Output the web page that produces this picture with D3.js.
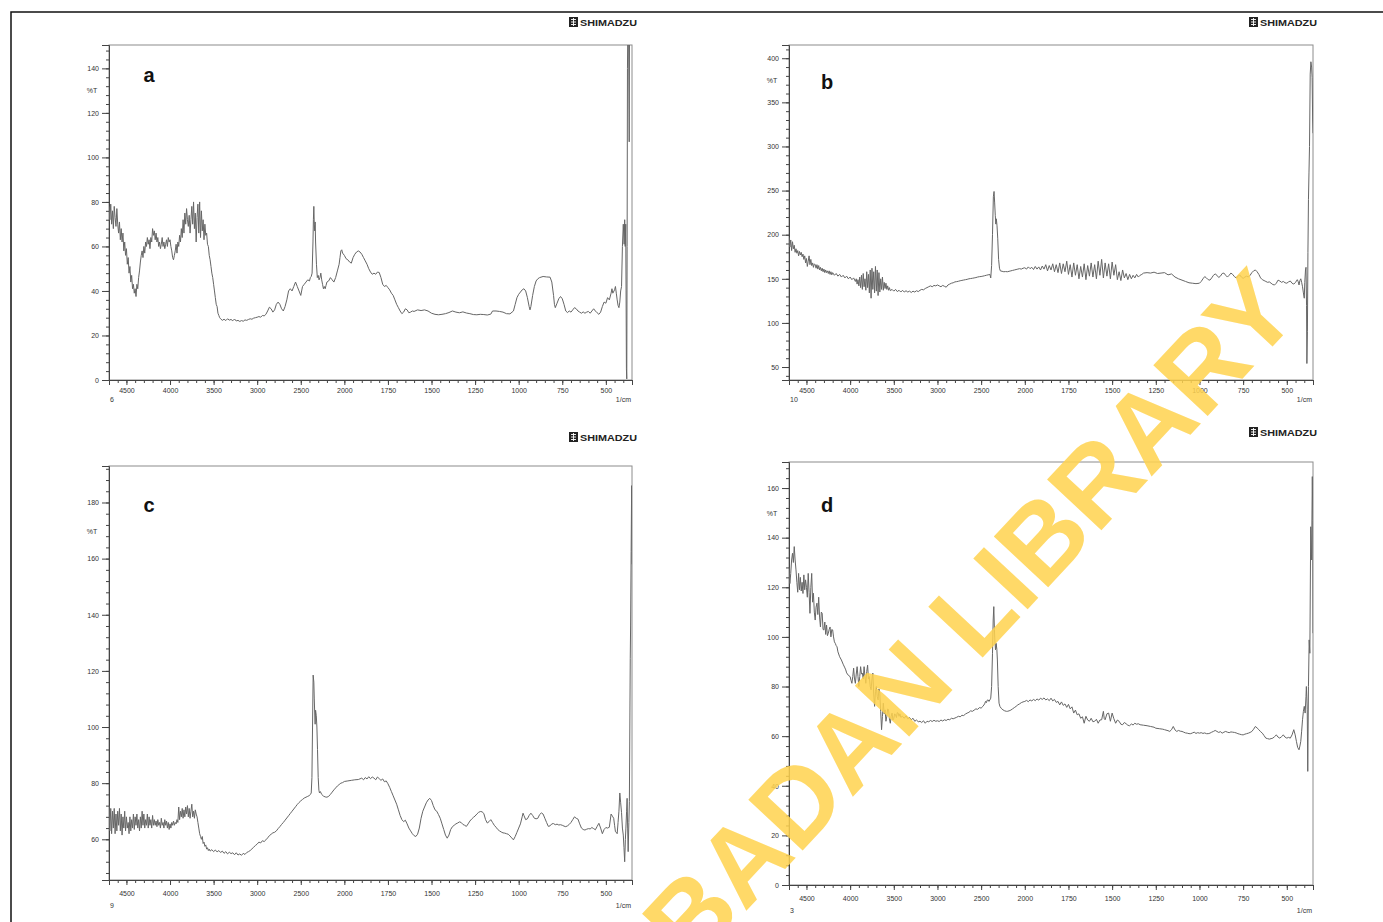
<!DOCTYPE html>
<html>
<head>
<meta charset="utf-8">
<script src="https://cdnjs.cloudflare.com/ajax/libs/d3/7.8.5/d3.min.js"></script>
<style>
  body { margin: 0; background: #fff; }
  text { font-family: "Liberation Sans", Arial, sans-serif; }
</style>
</head>
<body>
<div id="chart"></div>
<script>
// wavenumber ticks shared by all four spectra (1/cm)
const xMajor = [4500, 4000, 3500, 3000, 2500, 2000, 1750, 1500, 1250, 1000, 750, 500];

// %T tick labels per panel
const yTicksA = [0, 20, 40, 60, 80, 100, 120, 140];
const yTicksB = [50, 100, 150, 200, 250, 300, 350, 400];
const yTicksC = [60, 80, 100, 120, 140, 160, 180];
const yTicksD = [0, 20, 40, 60, 80, 100, 120, 140, 160];

// spectra: [wavenumber, %T]
const spectrumA = [
  [4700,78],[4690,72],[4680,79],[4670,70],[4660,76],[4650,68],[4640,78],[4630,73],[4620,69],[4610,77],
  [4600,70],[4590,66],[4580,71],[4570,63],[4560,68],[4550,62],[4540,66],[4530,58],[4520,62],[4510,56],
  [4500,59],[4490,52],[4480,55],[4470,48],[4460,51],[4450,44],[4440,47],[4430,41],[4420,43],[4410,39],
  [4400,41],[4390,37.5],[4380,43],[4370,41],[4360,46],[4350,49],[4340,53],[4330,56],[4320,58],[4310,55],
  [4300,60],[4290,57],[4280,62],[4270,60],[4260,64],[4250,61],[4240,63],[4230,59],[4220,64],[4210,62],
  [4200,68],[4190,65],[4180,67],[4170,63],[4160,66],[4150,62],[4140,64],[4130,60],[4120,62],[4110,59],
  [4100,61],[4090,64],[4080,60],[4070,62],[4060,59],[4050,61],[4040,63],[4030,60],[4020,64],[4010,62],
  [4000,63],[3990,60],[3980,58],[3970,55],[3960,54],[3950,56],[3940,58],[3930,61],[3920,57],[3910,62],
  [3900,60],[3890,65],[3880,62],[3870,68],[3860,64],[3850,72],[3840,66],[3830,75],[3820,70],[3810,77],
  [3800,72],[3790,69],[3780,74],[3770,66],[3760,72],[3750,78],[3740,70],[3730,80],[3720,68],[3710,75],
  [3700,62],[3690,73],[3680,79],[3670,66],[3660,80],[3650,64],[3640,76],[3630,67],[3620,72],[3610,63],
  [3600,70],[3590,65],[3580,66],[3570,61],[3560,60],[3550,56],[3540,54],[3530,51],[3520,48],[3510,46],
  [3500,43],[3490,40],[3480,37],[3470,34],[3460,33],[3450,30],[3440,29],[3430,28],[3420,27.5],[3400,26.8],
  [3380,27.3],[3360,26.7],[3340,27.5],[3320,26.9],[3300,27.2],[3280,26.6],[3260,27.4],[3240,26.5],[3220,26.8],
  [3200,26.3],[3180,26.7],[3160,26.4],[3140,27],[3120,26.8],[3100,27.2],[3080,27.5],[3060,27.3],[3040,27.8],
  [3020,28],[3000,28.2],[2980,28.5],[2960,28.2],[2940,29],[2920,28.8],[2900,29.5],[2880,31],[2860,32.7],
  [2840,32],[2820,30.5],[2800,31.5],[2780,34],[2760,35],[2740,34],[2720,32],[2700,31],[2680,33],[2660,36],
  [2640,40],[2620,41],[2600,40],[2580,42],[2560,44],[2540,42],[2520,40],[2500,38],[2490,40],[2480,42],
  [2460,43],[2440,44],[2420,45],[2400,44.5],[2390,46],[2380,46.5],[2370,48],[2360,62],[2355,72],[2350,78],
  [2345,70],[2340,67],[2335,71],[2330,62],[2320,52],[2310,46],[2300,47],[2290,45],[2280,46],[2270,48],
  [2260,45],[2250,43],[2240,41],[2230,42],[2220,41],[2210,42.5],[2200,44],[2180,44.5],[2160,46],[2140,45],
  [2120,44],[2100,46],[2080,49],[2060,52],[2050,55],[2040,58],[2030,58.5],[2020,57],[2000,56],[1990,54.5],
  [1980,54],[1970,53],[1960,52.5],[1950,55],[1940,56.5],[1930,57.5],[1920,58],[1910,57.5],[1900,56.5],
  [1890,55],[1880,53.5],[1870,52],[1860,50],[1850,48.5],[1840,47.5],[1830,48],[1820,47.5],[1810,48.5],
  [1800,48.3],[1790,46],[1780,43],[1770,42],[1760,42.5],[1750,41.5],[1740,40.5],[1730,39],[1720,38],
  [1710,36],[1700,34],[1690,32.5],[1680,31],[1670,29.8],[1660,30.5],[1650,32],[1640,31.5],[1630,30.2],
  [1620,30.5],[1610,31],[1600,30.8],[1580,31.5],[1560,31.2],[1540,31.5],[1520,31],[1500,30],[1480,29.5],
  [1460,29.3],[1440,29.5],[1420,29.8],[1400,30.3],[1380,31],[1360,30.5],[1340,30.2],[1320,30.6],[1300,30.1],
  [1280,29.8],[1260,29.4],[1240,29.3],[1220,29.5],[1200,29.4],[1180,29.2],[1160,29.6],[1150,31],[1130,31],
  [1110,30.8],[1090,30.5],[1070,29.8],[1050,29.7],[1030,31],[1020,34],[1010,37],[1000,38.5],[990,39.5],
  [980,40.5],[970,41],[960,40],[950,37],[940,33],[935,31.5],[930,33],[920,38],[910,42],[900,44.5],
  [890,45.5],[880,46],[860,46.5],[840,46.3],[820,46.2],[810,44],[800,38],[795,34],[790,32.5],[780,34.5],
  [770,36.5],[760,37.5],[750,36.5],[740,34],[730,31],[720,30.3],[710,31],[700,30.5],[690,31.5],[680,32.5],
  [670,32],[660,31],[650,30.5],[640,30],[630,30.6],[620,30],[610,30.5],[600,30.8],[590,30],[580,31],
  [570,32],[560,31],[550,30.2],[540,29.5],[530,30.5],[520,33],[510,35],[500,34.5],[490,37],[480,36],
  [470,39],[465,41],[460,39],[450,40.5],[445,42],[440,39],[435,36],[430,33.5],[425,32.5],[420,35],
  [415,40],[410,42],[405,60],[400,70],[395,61],[392,72],[389,60],[386,70],[384,40],[382,5],[380,0.5],
  [378,60],[376,140],[374,160],[370,160],[366,107],[364,160],[350,160]
];

const spectrumB = [
  [4700,197],[4690,186],[4680,194],[4670,182],[4660,192],[4650,184],[4640,188],[4630,180],[4620,184],[4610,179],
  [4600,182],[4590,176],[4580,181],[4570,177],[4560,180],[4550,175],[4540,178],[4530,172],[4520,176],[4510,168],
  [4500,173],[4490,164],[4480,170],[4470,176],[4460,166],[4450,172],[4440,165],[4430,168],[4420,163],[4410,167],
  [4400,166],[4390,162],[4380,166],[4370,161],[4360,165],[4350,160],[4340,163],[4330,159],[4320,162],[4310,158],
  [4300,161],[4290,157],[4280,160],[4270,157],[4260,159],[4250,156],[4240,159],[4230,155],[4220,158],[4210,154.5],
  [4200,157],[4180,154],[4160,156],[4140,153],[4120,155],[4100,152],[4080,154],[4060,151],[4040,153],[4020,150],
  [4000,152],[3980,149],[3960,151],[3940,147],[3930,150],[3920,144],[3910,149],[3900,142],[3890,152],[3880,140],
  [3870,154],[3860,138],[3850,156],[3840,141],[3830,150],[3820,137],[3810,158],[3800,140],[3790,155],[3780,134],
  [3770,160],[3760,128],[3750,162],[3740,138],[3730,158],[3720,134],[3710,164],[3700,136],[3690,160],[3680,131],
  [3670,157],[3660,135],[3650,150],[3640,138],[3630,152],[3620,137],[3610,146],[3600,139],[3590,145],[3580,138],
  [3570,142],[3560,137],[3550,140],[3540,136.5],[3520,138],[3500,136],[3480,138],[3460,135.5],[3440,137],[3420,135],
  [3400,137],[3380,135],[3360,136.5],[3340,135],[3320,136],[3300,134.5],[3280,136],[3260,135],[3240,136.5],[3220,135.5],
  [3200,137],[3180,138],[3160,137.5],[3140,139],[3120,140],[3100,141],[3080,142],[3060,141],[3040,142.5],[3020,142],
  [3000,143],[2980,142],[2960,141],[2940,142.5],[2920,141.5],[2900,140.5],[2880,143],[2860,144],[2840,145],[2820,145.5],
  [2800,146.5],[2780,146.8],[2760,147.2],[2740,147.8],[2720,148.2],[2700,148.6],[2680,149],[2660,149.4],[2640,150],
  [2620,150.3],[2600,150.6],[2580,151],[2560,151.4],[2540,152],[2520,152.4],[2500,152.6],[2480,153],[2460,153.5],
  [2440,154],[2420,154.5],[2400,155],[2390,151],[2380,165],[2370,200],[2360,243],[2352,249],[2345,236],[2338,222],
  [2332,212],[2326,218],[2318,210],[2310,196],[2300,172],[2290,162],[2280,159],[2260,158.5],[2240,158],[2220,158.2],
  [2200,158],[2180,158.5],[2160,159],[2140,159.5],[2120,160],[2100,160.5],[2080,161],[2060,161.5],[2040,161],[2020,162],
  [2000,162.5],[1990,161],[1980,163.5],[1970,161.5],[1960,163],[1950,160.5],[1940,164],[1930,161],[1920,163.5],[1910,160],
  [1900,164.5],[1890,161],[1880,166],[1870,159],[1860,165],[1850,160],[1840,167],[1830,158],[1820,166],[1810,157],
  [1800,168],[1790,156],[1780,167],[1770,158],[1760,170],[1750,155],[1740,166],[1730,152],[1720,168],[1710,154],
  [1700,166],[1690,150],[1680,164],[1670,152],[1660,167],[1650,149],[1640,165],[1630,153],[1620,168],[1610,152],
  [1600,166],[1590,150],[1580,170],[1570,154],[1560,172],[1550,151],[1540,168],[1530,153],[1520,167],[1510,150],
  [1500,169],[1490,154],[1480,166],[1470,149],[1460,158],[1450,148],[1440,160],[1430,151],[1420,156],[1410,149],
  [1400,155],[1390,150],[1380,154],[1370,151],[1360,155],[1350,152],[1340,154],[1330,155],[1320,156.5],[1300,157],
  [1280,156.5],[1260,157.5],[1240,156],[1220,156.5],[1200,157],[1180,154.5],[1160,155.5],[1140,152],[1120,150],
  [1100,148.5],[1080,147],[1060,145.5],[1040,145],[1020,144.5],[1000,145],[990,147],[980,150],[970,152.5],[960,151],
  [950,149],[940,148.5],[930,151],[920,154],[910,155.5],[900,154],[890,151.5],[880,153],[870,156],[860,156.5],
  [850,154],[840,152],[830,154],[820,156.5],[810,155],[800,152.5],[790,151],[780,152.5],[770,154.5],[760,152],
  [750,150.5],[740,152],[730,153],[720,152],[710,154],[700,157],[690,159],[680,160],[670,158],[660,155],
  [650,151],[640,149],[630,148],[620,147],[610,146],[600,146.5],[590,145],[580,143.5],[570,143],[560,145],
  [550,148.5],[540,147.5],[530,146],[520,147],[510,145.5],[500,145],[490,146.5],[480,147.5],[470,145],[460,144],
  [450,146],[440,149],[435,147],[430,143],[425,148],[420,150],[415,146],[410,141],[405,134],[400,128],
  [397,146],[393,160],[390,163],[387,120],[385,54],[382,90],[379,180],[376,240],[373,270],[370,300],
  [366,382],[362,396],[358,390],[355,378],[352,330],[350,315]
];

const spectrumC = [
  [4700,72],[4690,63],[4680,71],[4670,62],[4660,70],[4650,64],[4640,71],[4630,62],[4620,69],[4610,63],
  [4600,70],[4590,65],[4580,71],[4570,63],[4560,69],[4550,61.5],[4540,68],[4530,64],[4520,70],[4510,63],
  [4500,68],[4490,64],[4480,66],[4470,62],[4460,68],[4450,63],[4440,67],[4430,64],[4420,69],[4410,63.5],
  [4400,68],[4390,65],[4380,69],[4370,64],[4360,67],[4350,63],[4340,68],[4330,64],[4320,70],[4310,65],
  [4300,69],[4290,64],[4280,67],[4270,65],[4260,69],[4250,64],[4240,68],[4230,65],[4220,67],[4210,64],
  [4200,68.5],[4190,65],[4180,67],[4170,65],[4160,66.5],[4150,64.5],[4140,67],[4130,65],[4120,66],[4110,64],
  [4100,67.5],[4090,65],[4080,66],[4070,64],[4060,67],[4050,65],[4040,66.5],[4030,64],[4020,66],[4010,63.5],
  [4000,65.5],[3990,64],[3980,66],[3970,65],[3960,66.5],[3950,65],[3940,66],[3930,65.5],[3920,67],[3910,66],
  [3900,71.5],[3890,67],[3880,70],[3870,68],[3860,71],[3850,67.5],[3840,70.5],[3830,68],[3820,71.5],[3810,69],
  [3800,72],[3790,68],[3780,71],[3770,67.5],[3760,70],[3750,72.5],[3740,68],[3730,70],[3720,67.5],[3710,70.5],
  [3700,69],[3690,68],[3680,66],[3670,64],[3660,62],[3650,61],[3640,60],[3630,61],[3620,58.5],[3610,59],
  [3600,57.5],[3590,58],[3580,56.5],[3570,57],[3560,56],[3550,56.5],[3540,55.8],[3520,56.3],[3500,55.6],
  [3480,56.2],[3460,55.5],[3440,56],[3420,55.3],[3400,55.8],[3380,55],[3360,55.6],[3340,54.8],[3320,55.4],
  [3300,54.9],[3280,55.2],[3260,54.5],[3240,55.2],[3220,54.4],[3200,54.8],[3180,54.3],[3160,55],[3140,54.6],
  [3120,55.3],[3100,55.6],[3080,56],[3060,56.6],[3040,57.2],[3020,57.8],[3000,58.3],[2980,59],[2960,58.7],
  [2940,59.5],[2920,59.2],[2900,59.8],[2880,60.5],[2860,61.3],[2840,61.8],[2820,62.3],[2800,62.5],[2780,63],
  [2760,63.8],[2740,64.5],[2720,65.3],[2700,66],[2680,66.8],[2660,67.6],[2640,68.4],[2620,69.2],[2600,70],
  [2580,70.8],[2560,71.6],[2540,72.4],[2520,73.1],[2500,73.7],[2480,74.2],[2460,74.7],[2440,75],[2420,75.3],
  [2400,75.6],[2390,76],[2380,76.5],[2372,82],[2365,100],[2358,118.5],[2350,116],[2345,110],[2340,105],
  [2335,101],[2330,106],[2322,104],[2315,100],[2308,92],[2300,82],[2292,77.5],[2285,76.5],[2275,77],
  [2260,76],[2240,75.4],[2220,75.1],[2200,75],[2180,75.3],[2160,76],[2140,76.8],[2120,77.6],[2100,78.3],
  [2080,79],[2060,79.5],[2040,80],[2020,80.2],[2000,80.6],[1980,80.8],[1960,81],[1940,81.2],[1920,81.3],
  [1900,81.8],[1890,81.2],[1880,82],[1870,81.5],[1860,82.3],[1850,81.6],[1840,82.2],[1830,81.8],[1820,81.2],
  [1810,82.2],[1800,81.6],[1790,81],[1780,81.5],[1770,80.5],[1760,80.8],[1750,79.8],[1740,78.5],[1730,77],
  [1720,75.5],[1710,74],[1700,72.5],[1690,70.5],[1680,68.5],[1670,67],[1660,66.3],[1650,66.8],[1640,65.5],
  [1630,64],[1620,63],[1610,62],[1600,61.3],[1590,61],[1580,61.8],[1570,64],[1560,67.5],[1550,70],
  [1540,71.5],[1530,73],[1520,74],[1510,74.6],[1500,73.8],[1490,72],[1480,70.5],[1470,70],[1460,68.8],
  [1450,67.5],[1440,65.5],[1430,63.5],[1420,61.5],[1410,60.4],[1400,61.5],[1390,63.5],[1380,64.5],[1370,65],
  [1360,65.5],[1350,65.8],[1340,66.2],[1330,66],[1320,65.3],[1310,65],[1300,64.6],[1290,65.5],[1280,66.5],
  [1270,67.2],[1260,67.8],[1250,68.3],[1240,69],[1230,69.6],[1220,69.9],[1210,69.8],[1200,69.2],[1190,67],
  [1180,65.8],[1170,66.3],[1160,67],[1150,66],[1140,65],[1130,64.3],[1120,63.5],[1110,63],[1100,62.6],
  [1090,62.3],[1080,62.2],[1070,62],[1060,61.8],[1050,61.2],[1040,60.5],[1030,59.8],[1020,61],[1010,62.5],
  [1000,64],[990,65.5],[980,68],[975,69.3],[970,68.5],[960,67],[950,67.3],[940,68.5],[930,69.3],[920,68.5],
  [910,67.5],[900,67.3],[890,67.5],[880,68.8],[870,69.4],[860,69],[850,67.5],[840,66],[830,64.6],[820,64.8],
  [810,65.5],[800,65.6],[790,65.2],[780,65.4],[770,65.1],[760,65.2],[750,65],[740,64.7],[730,64.5],[720,64.8],
  [710,65.3],[700,66],[690,67],[680,68],[670,67.5],[660,67.2],[650,65.5],[640,64],[630,63.5],[620,63.3],
  [610,63.6],[600,63.8],[590,63.7],[580,64.2],[570,63.8],[560,63.4],[550,64.6],[540,65.7],[530,64],[520,62],
  [510,63.5],[500,64.2],[490,64],[480,64.3],[470,69],[460,68],[455,67.5],[450,65],[445,62.7],[440,62.5],
  [435,62],[430,66],[425,70],[420,76.5],[415,73],[410,69.5],[405,64],[400,61.5],[396,57],[392,52],
  [388,60],[385,64],[381,70],[378,74.6],[375,64],[372,55.6],[368,66],[365,73.4],[362,105],[360,124.5],
  [358,136],[355,162.5],[352,186],[350,158]
];

const spectrumD = [
  [4700,128],[4690,121.5],[4680,125.6],[4670,131],[4660,133.7],[4650,130],[4640,136.4],[4630,131],[4620,127],
  [4610,122],[4600,118],[4590,125.6],[4580,119],[4570,124],[4560,118.5],[4550,122],[4540,117.5],[4530,125],
  [4520,119],[4510,123],[4500,120],[4490,116],[4480,125.6],[4470,118],[4460,109.5],[4450,120],[4440,125.6],
  [4430,114],[4420,117.6],[4410,110],[4400,106.8],[4390,112],[4380,113.6],[4370,109],[4360,116],[4350,108],
  [4340,104],[4330,110],[4320,109.5],[4310,103],[4300,102.8],[4290,106],[4280,101],[4270,104.8],[4260,100.5],
  [4250,101.5],[4240,103],[4230,104],[4220,100],[4210,103],[4200,102.8],[4190,100],[4180,98],[4170,97.4],
  [4160,96.5],[4150,96],[4140,94],[4120,92],[4100,90.7],[4080,89],[4060,87.5],[4050,86.7],[4040,85.5],
  [4020,84.5],[4000,84],[3990,82.5],[3980,81.3],[3970,84],[3960,87.4],[3950,83],[3940,81.3],[3930,85],
  [3920,88],[3910,84],[3900,80],[3890,84],[3880,88],[3870,85],[3860,85.4],[3850,83],[3840,88],[3830,84],
  [3820,81.3],[3810,86],[3800,88.6],[3790,83],[3780,84],[3770,80],[3760,78.7],[3750,83],[3740,85.4],
  [3730,77],[3720,72],[3710,78],[3700,80],[3690,76],[3680,74.6],[3670,79],[3660,77.3],[3650,70],[3640,62.6],
  [3630,68],[3620,73.3],[3610,69],[3600,70.6],[3590,66],[3580,68],[3570,71],[3560,70.6],[3550,67],[3540,65.2],
  [3530,68],[3520,69.3],[3510,66.5],[3500,67.2],[3490,69],[3480,68.6],[3470,67.5],[3460,69.5],[3450,69.3],
  [3440,68],[3430,69],[3420,67.6],[3400,68],[3380,67.2],[3360,68.2],[3340,67],[3320,67.5],[3300,66.6],
  [3280,67.2],[3260,66],[3240,66.5],[3220,65.8],[3200,66],[3180,65.5],[3160,66.2],[3140,65.2],[3120,66],
  [3100,65.8],[3080,66.3],[3060,65.9],[3040,66.4],[3020,66],[3000,66.2],[2980,65.9],[2960,66.5],[2940,66.1],
  [2920,66.6],[2900,66.3],[2880,66.8],[2860,66.6],[2840,67.2],[2820,67],[2800,67.3],[2780,67.6],[2760,68],
  [2740,67.8],[2720,68.4],[2700,68.3],[2680,68.9],[2660,69.3],[2640,69.6],[2620,70.2],[2600,70],[2580,70.5],
  [2560,71],[2540,70.8],[2520,71.5],[2500,71.3],[2480,72],[2460,73],[2450,74],[2440,73.5],[2430,74.5],
  [2420,74.6],[2410,74],[2400,74.6],[2390,75.3],[2380,80],[2370,93.4],[2362,106.8],[2355,112.2],[2348,103],
  [2342,98],[2335,94.8],[2328,97.4],[2320,95],[2314,90.7],[2305,80],[2295,73.3],[2285,72],[2270,71.2],
  [2250,70.6],[2230,70.2],[2210,70],[2200,70],[2180,70.2],[2160,70.5],[2140,71],[2120,71.5],[2100,72],
  [2080,72.6],[2060,73],[2040,73.5],[2020,73.8],[2000,74],[1990,74.4],[1980,73.9],[1970,74.6],[1960,74.2],
  [1950,74.8],[1940,74.3],[1930,75],[1920,74.5],[1910,75.3],[1900,74.8],[1890,75.4],[1880,74.6],[1870,75],
  [1860,74.3],[1850,75.3],[1840,74.2],[1830,74.8],[1820,73.6],[1810,74],[1800,72.6],[1790,73.8],[1780,72.4],
  [1770,73],[1760,71.6],[1750,72.8],[1740,71],[1730,71.8],[1720,69.3],[1710,70.5],[1700,68.6],[1690,69],
  [1680,67.2],[1670,67.8],[1660,65.2],[1650,68],[1640,66.5],[1630,66],[1620,67.2],[1610,65.8],[1600,66],
  [1590,66.8],[1580,65.2],[1570,66.5],[1560,66.6],[1550,70],[1545,67],[1540,66.6],[1530,69],[1520,69.3],
  [1510,66],[1500,69.3],[1490,67],[1480,65.2],[1470,66.5],[1460,66],[1450,64.8],[1440,64.6],[1430,65.5],
  [1420,65],[1410,64.4],[1400,64.2],[1390,64.9],[1380,64.5],[1370,65.2],[1360,64.8],[1350,65],[1340,64.6],
  [1320,64.4],[1300,64.2],[1280,63.9],[1260,63.6],[1250,63.2],[1230,63],[1210,62.8],[1200,62.6],[1180,62.2],
  [1170,61.9],[1160,62.6],[1150,63.9],[1140,62.5],[1130,61.9],[1120,62.3],[1110,62],[1100,61.9],[1090,61.6],
  [1080,61.3],[1070,61.2],[1060,61],[1050,61],[1040,61.3],[1030,61.6],[1020,61.1],[1010,61.4],[1000,61.2],
  [990,61.4],[980,61.1],[970,61.3],[960,61],[950,61],[940,61.2],[930,61.6],[920,61.9],[910,62.3],[900,61.9],
  [890,61.5],[880,61.8],[870,61.2],[860,61.6],[850,61.9],[840,61.6],[830,61.4],[820,61.7],[810,61.6],
  [800,61.5],[790,61.3],[780,61],[770,60.8],[760,60.6],[750,60.5],[740,60.8],[730,61],[720,61.2],[710,61.5],
  [700,61.9],[690,62.8],[680,63.9],[670,63.3],[660,62.6],[650,61.8],[640,61.2],[630,60.2],[620,59.2],
  [610,59],[600,58.8],[590,59],[580,59.2],[570,59.8],[560,60.5],[550,59.6],[540,59.2],[530,59.8],[520,60.5],
  [510,59.6],[500,59.2],[490,59.5],[480,59.2],[470,60.5],[460,62.6],[452,60.5],[445,57.9],[438,55.5],
  [430,54.5],[425,56],[420,57.9],[415,62],[410,66.6],[405,70],[400,72],[395,69.3],[390,76],[388,80],
  [385,75],[383,70.6],[380,45.8],[376,80],[372,98.8],[368,93.4],[363,144.4],[358,131],[354,164.6],
  [351,147],[350,101.5]
];

const width = 1383;
const height = 922;

const svg = d3.select("#chart")
  .append("svg")
  .attr("width", width)
  .attr("height", height);

// page frame (only top and left edges are inside the crop)
svg.append("rect")
  .attr("x", 11).attr("y", 12)
  .attr("width", width + 20).attr("height", height + 20)
  .attr("fill", "none")
  .attr("stroke", "#111")
  .attr("stroke-width", 1.5);

const panels = [
  { id: "a", data: spectrumA, yTicks: yTicksA, yDomain: [0, 150.5], yMinor: 4,
    left: 109, right: 632, top: 45, bottom: 380, labelGap: 11, sampleGap: 19, sample: "6",
    pctY: 90, letter: [149, 75], logo: [637, 22] },
  { id: "b", data: spectrumB, yTicks: yTicksB, yDomain: [35.3, 415], yMinor: 10,
    left: 789, right: 1313, top: 45, bottom: 380, labelGap: 11, sampleGap: 19, sample: "10",
    pctY: 80, letter: [827, 82], logo: [1317, 22] },
  { id: "c", data: spectrumC, yTicks: yTicksC, yDomain: [45.5, 193], yMinor: 4,
    left: 109, right: 632, top: 466, bottom: 880, labelGap: 14, sampleGap: 25, sample: "9",
    pctY: 531, letter: [149, 505], logo: [637, 437] },
  { id: "d", data: spectrumD, yTicks: yTicksD, yDomain: [0, 170.5], yMinor: 4,
    left: 789, right: 1313, top: 462, bottom: 885, labelGap: 14, sampleGap: 25, sample: "3",
    pctY: 513, letter: [827, 505], logo: [1317, 432] }
];

function drawPanel(p) {
  const g = svg.append("g").attr("class", "panel-" + p.id);

  // Shimadzu display: 500 1/cm per division above 2000, 250 below
  const step = (p.right - p.left) / 12;
  const x = d3.scaleLinear()
    .domain([4700, 2000, 350])
    .range([p.left, p.left + 5.4 * step, p.right]);

  const y = d3.scaleLinear()
    .domain(p.yDomain)
    .range([p.bottom, p.top]);

  // plot frame
  g.append("rect")
    .attr("x", p.left).attr("y", p.top)
    .attr("width", p.right - p.left).attr("height", p.bottom - p.top)
    .attr("fill", "none")
    .attr("stroke", "#8c8c8c")
    .attr("stroke-width", 1);

  // minor x ticks
  const xMinor = d3.range(4700, 2000, -100).concat(d3.range(2000, 349, -50));
  g.append("g")
    .attr("transform", `translate(0,${p.bottom})`)
    .call(d3.axisBottom(x).tickValues(xMinor).tickSize(3).tickFormat(""))
    .call(a => a.select(".domain").remove())
    .call(a => a.selectAll("line").attr("stroke", "#444"));

  // major x ticks + labels
  g.append("g")
    .attr("transform", `translate(0,${p.bottom})`)
    .call(d3.axisBottom(x).tickValues(xMajor).tickSize(5).tickPadding(p.labelGap - 8).tickFormat(d3.format("d")))
    .call(a => a.select(".domain").attr("stroke", "#444"))
    .call(a => a.selectAll("line").attr("stroke", "#444"))
    .call(a => a.selectAll("text").attr("font-size", 7).attr("fill", "#333")
      .attr("font-family", "'Liberation Sans', Arial, sans-serif"));

  // minor y ticks
  const lo = Math.ceil(p.yDomain[0] / p.yMinor) * p.yMinor;
  const yMinorVals = d3.range(lo, p.yDomain[1], p.yMinor);
  g.append("g")
    .attr("transform", `translate(${p.left},0)`)
    .call(d3.axisLeft(y).tickValues(yMinorVals).tickSize(3).tickFormat(""))
    .call(a => a.select(".domain").remove())
    .call(a => a.selectAll("line").attr("stroke", "#444"));

  // major y ticks + labels
  g.append("g")
    .attr("transform", `translate(${p.left},0)`)
    .call(d3.axisLeft(y).tickValues(p.yTicks).tickSize(7).tickPadding(3).tickFormat(d3.format("d")))
    .call(a => a.select(".domain").attr("stroke", "#444"))
    .call(a => a.selectAll("line").attr("stroke", "#444"))
    .call(a => a.selectAll("text").attr("font-size", 7).attr("fill", "#333")
      .attr("font-family", "'Liberation Sans', Arial, sans-serif"));

  // axis captions
  g.append("text")
    .attr("x", p.left - 17).attr("y", p.pctY)
    .attr("text-anchor", "middle").attr("dominant-baseline", "central")
    .attr("font-size", 7).attr("fill", "#333")
    .text("%T");

  g.append("text")
    .attr("x", p.left + 1).attr("y", p.bottom + p.sampleGap)
    .attr("dominant-baseline", "central")
    .attr("font-size", 7).attr("fill", "#333")
    .text(p.sample);

  g.append("text")
    .attr("x", p.right - 1).attr("y", p.bottom + p.sampleGap)
    .attr("text-anchor", "end").attr("dominant-baseline", "central")
    .attr("font-size", 7).attr("fill", "#333")
    .text("1/cm");

  // spectrum
  const clipId = "clip-" + p.id;
  g.append("clipPath").attr("id", clipId)
    .append("rect")
    .attr("x", p.left).attr("y", p.top)
    .attr("width", p.right - p.left).attr("height", p.bottom - p.top);

  const line = d3.line()
    .x(d => x(d[0]))
    .y(d => y(d[1]));

  g.append("path")
    .datum(p.data)
    .attr("clip-path", `url(#${clipId})`)
    .attr("fill", "none")
    .attr("stroke", "#666")
    .attr("stroke-width", 1)
    .attr("stroke-linejoin", "round")
    .attr("d", line);

  // panel letter
  g.append("text")
    .attr("x", p.letter[0]).attr("y", p.letter[1])
    .attr("text-anchor", "middle").attr("dominant-baseline", "central")
    .attr("font-size", 20).attr("font-weight", "bold").attr("fill", "#111")
    .text(p.id);

  // instrument logo
  const logo = g.append("g").attr("transform", `translate(${p.logo[0] - 68},${p.logo[1]})`);
  logo.append("rect")
    .attr("x", 0).attr("y", -5).attr("width", 9).attr("height", 10)
    .attr("fill", "#222");
  logo.append("path")
    .attr("d", "M2,-2.5H7M2,0H7M2,2.5H7M4.5,-4V4")
    .attr("stroke", "#fff").attr("stroke-width", 0.9).attr("fill", "none");
  logo.append("text")
    .attr("x", 11).attr("y", 0)
    .attr("dominant-baseline", "central")
    .attr("font-size", 9.5).attr("font-weight", "bold").attr("fill", "#222")
    .attr("textLength", 57).attr("lengthAdjust", "spacingAndGlyphs")
    .text("SHIMADZU");
}

panels.forEach(drawPanel);

// library watermark, running off the bottom edge as in the scan
svg.append("text")
  .attr("transform", "translate(1275,289) rotate(-47)")
  .attr("text-anchor", "end")
  .attr("dominant-baseline", "central")
  .attr("font-size", 108)
  .attr("font-weight", "bold")
  .attr("fill", "#ffd24d")
  .attr("fill-opacity", 0.85)
  .text("IBADAN LIBRARY");
</script>
</body>
</html>
